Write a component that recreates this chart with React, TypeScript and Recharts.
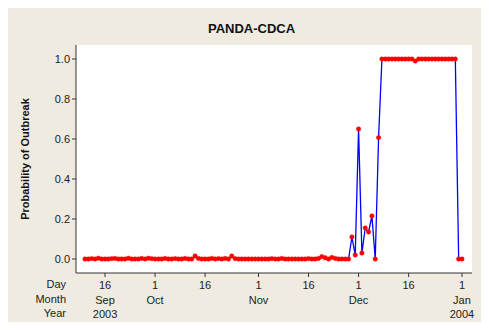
import { LineChart, Line, XAxis, YAxis, CartesianGrid } from 'recharts'

// daily series, first value = 10 Sep 2003, last = 1 Jan 2004
const startDay = 9 // days since 1 Sep 2003

const sepValues = [
  0, 0, 0.002, 0, 0.004, 0, 0, 0, 0.002, 0.003, 0, 0, 0, 0.004, 0, 0, 0, 0.003, 0, 0.004, 0.002,
]
const octValues = [
  0, 0, 0, 0.003, 0, 0, 0.002, 0, 0, 0.003, 0, 0, 0.015, 0.003, 0, 0, 0, 0.003, 0, 0.002, 0,
  0.003, 0, 0.015, 0.002, 0, 0, 0, 0, 0, 0,
]
const novValues = [
  0, 0, 0, 0, 0.002, 0, 0, 0.003, 0, 0, 0, 0, 0, 0, 0, 0.002, 0, 0, 0.003, 0.012, 0.006, 0,
  0.008, 0.003, 0, 0, 0, 0, 0.11, 0.02,
]
const decValues = [
  0.65, 0.03, 0.155, 0.135, 0.215, 0, 0.607, 1, 1, 1, 1, 1, 1, 1, 1, 1, 1, 0.99, 1, 1, 1, 1, 1,
  1, 1, 1, 1, 1, 1, 1, 0,
]
const janValues = [0]

const probability = [...sepValues, ...octValues, ...novValues, ...decValues, ...janValues]

const xTicks = [15, 30, 45, 61, 76, 91, 106, 122]
const tickDays = ['16', '1', '16', '1', '16', '1', '16', '1']
const tickMonths = ['Sep', 'Oct', '', 'Nov', '', 'Dec', '', 'Jan']
const tickYears = ['2003', '', '', '', '', '', '', '2004']
const yTicks = [0, 0.2, 0.4, 0.6, 0.8, 1.0]

const data = probability.map((p, i) => ({ day: startDay + i, p }))

const font = '"Liberation Sans", Arial, sans-serif'

// eslint-disable-next-line @typescript-eslint/no-explicit-any
function DateTick({ x, y, payload }: any) {
  const i = xTicks.indexOf(payload.value)
  return (
    <text x={x} textAnchor="middle" fontSize={11} fontFamily={font} fill="#222">
      <tspan x={x} y={y + 10}>{tickDays[i]}</tspan>
      <tspan x={x} y={y + 25}>{tickMonths[i]}</tspan>
      <tspan x={x} y={y + 39}>{tickYears[i]}</tspan>
    </text>
  )
}

export default function App() {
  return (
    <div
      style={{
        position: 'relative',
        width: 489,
        height: 330,
        margin: -8,
        background: '#fff',
        overflow: 'hidden',
        fontFamily: font,
      }}
    >
      <div
        style={{
          position: 'absolute',
          left: 5,
          top: 6,
          width: 500,
          height: 340,
          background: '#efebe0',
          borderLeft: '1px solid #666',
          borderTop: '1px solid #666',
        }}
      />
      <div
        style={{
          position: 'absolute',
          left: 0,
          width: 503,
          top: 21,
          textAlign: 'center',
          fontWeight: 'bold',
          fontSize: 13,
          color: '#111',
        }}
      >
        PANDA-CDCA
      </div>
      {['Day', 'Month', 'Year'].map((t, i) => (
        <div
          key={t}
          style={{
            position: 'absolute',
            right: 489 - 66,
            top: 278 + i * 14.5,
            fontSize: 11,
            color: '#222',
          }}
        >
          {t}
        </div>
      ))}
      <div style={{ position: 'absolute', left: 0, top: 0 }}>
        <LineChart
          width={489}
          height={330}
          data={data}
          margin={{ top: 45, right: 17, bottom: 0, left: 36 }}
        >
          <CartesianGrid fill="#fff" horizontal={false} vertical={false} />
          <XAxis
            dataKey="day"
            type="number"
            domain={[6.3, 125]}
            ticks={xTicks}
            tick={<DateTick />}
            tickSize={4}
            height={57}
            interval={0}
            stroke="#333"
            allowDataOverflow
          />
          <XAxis
            xAxisId="top"
            orientation="top"
            dataKey="day"
            type="number"
            domain={[6.3, 125]}
            tick={false}
            tickLine={false}
            height={0}
            stroke="#555"
            strokeWidth={1.5}
          />
          <YAxis
            type="number"
            domain={[-0.07, 1.07]}
            ticks={yTicks}
            tickFormatter={(v: number) => v.toFixed(1)}
            tickSize={4}
            width={40}
            stroke="#333"
            tick={{ fontSize: 11, fontFamily: font, fill: '#222' }}
            allowDataOverflow
            label={{
              value: 'Probability of Outbreak',
              angle: -90,
              position: 'insideLeft',
              offset: -11,
              style: { textAnchor: 'middle', fontWeight: 'bold', fontSize: 11, fill: '#111', fontFamily: font },
            }}
          />
          <YAxis
            yAxisId="right"
            orientation="right"
            domain={[-0.07, 1.07]}
            tick={false}
            tickLine={false}
            width={0}
            stroke="#111"
          />
          <Line
            type="linear"
            dataKey="p"
            stroke="#0000ff"
            strokeWidth={1.3}
            dot={{ r: 2.2, fill: '#ff0000', stroke: '#ff0000', strokeWidth: 0.5 }}
            activeDot={false}
            isAnimationActive={false}
          />
        </LineChart>
      </div>
    </div>
  )
}
